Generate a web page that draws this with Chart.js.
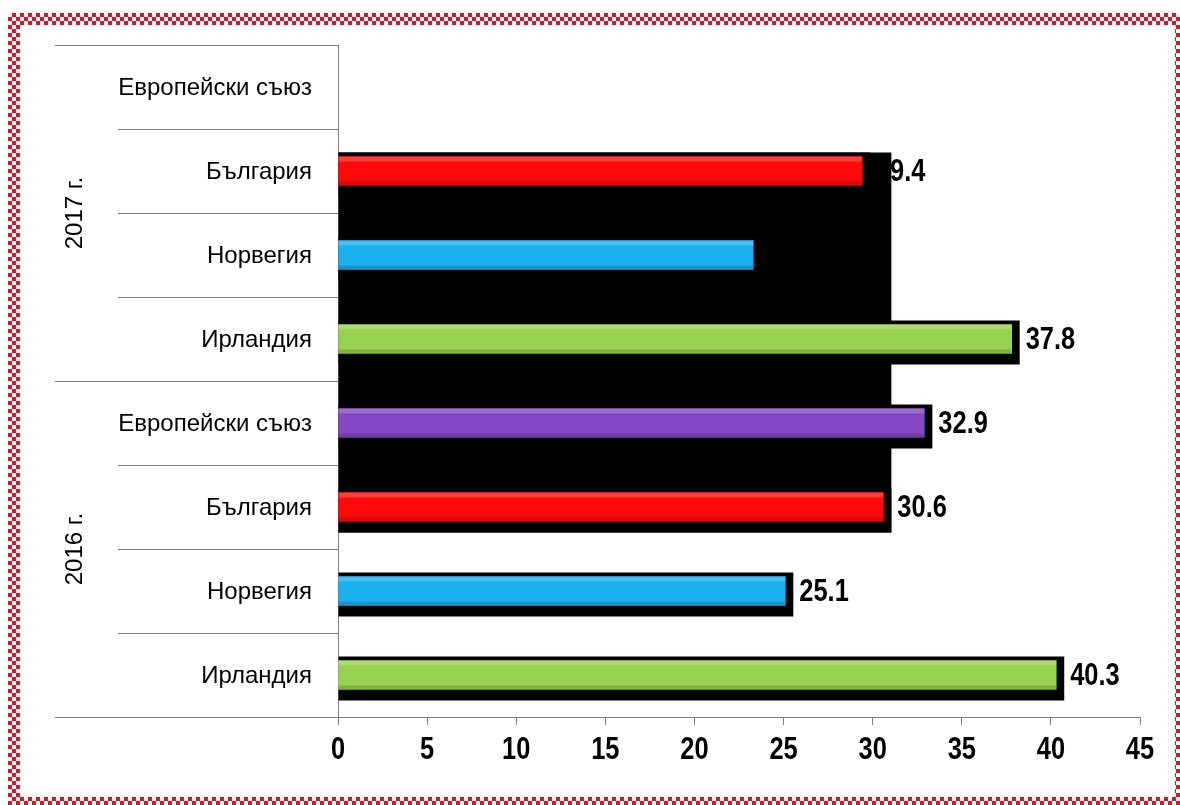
<!DOCTYPE html>
<html>
<head>
<meta charset="utf-8">
<script src="https://cdn.jsdelivr.net/npm/chart.js@4.4.0/dist/chart.umd.min.js"></script>
<style>
  html, body { margin: 0; padding: 0; background: #fff; }
  body { width: 1180px; height: 805px; position: relative; overflow: hidden; }
  .frame {
    position: absolute; left: 8px; top: 13px; width: 1179px; height: 796px;
    background: repeating-conic-gradient(#e8101a 0 25%, #fff 0 50%) 0 0 / 8px 8px;
  }
  .frame-inner { position: absolute; left: 12px; top: 12px; right: 12px; bottom: 12px; background: #fff; }
  #chart { position: absolute; left: 0; top: 0; }
</style>
</head>
<body>
<div class="frame"><div class="frame-inner"></div></div>
<canvas id="chart" width="1180" height="805"></canvas>
<script>
  'use strict';
  // categories, top to bottom
  const categories = [
    'Европейски съюз', 'България', 'Норвегия', 'Ирландия',
    'Европейски съюз', 'България', 'Норвегия', 'Ирландия'
  ];
  const groupLabels = ['2017 г.', '2016 г.'];
  const groupSizes = [4, 4];
  const values = [null, 29.4, 23.3, 37.8, 32.9, 30.6, 25.1, 40.3];
  const barColors = [
    '#8448c4', '#ff0a0a', '#19b2ee', '#96d24e',
    '#8448c4', '#ff0a0a', '#19b2ee', '#96d24e'
  ];
  const xTicks = [0, 5, 10, 15, 20, 25, 30, 35, 40, 45];

  const FAMILY = '"Liberation Sans", Arial, sans-serif';
  const NARROW = 0.82; // bold numbers look like Arial Narrow

  function drawText(ctx, text, x, y, font, align, squeeze, angle) {
    ctx.save();
    ctx.translate(x, y);
    if (angle) ctx.rotate(angle);
    ctx.scale(squeeze, 1);
    ctx.font = font;
    ctx.fillStyle = '#000';
    ctx.textAlign = align;
    ctx.textBaseline = 'middle';
    ctx.fillText(text, 0, 0);
    ctx.restore();
  }

  // black frame that sits behind every bar
  function shadowBox(bar) {
    const p = bar.getProps(['x', 'y', 'base', 'height'], true);
    return { l: p.base, t: p.y - p.height / 2 - 4, r: p.x + 8, b: p.y + p.height / 2 + 11 };
  }

  const shadowPlugin = {
    id: 'shadows',
    beforeDatasetsDraw(chart) {
      const ctx = chart.ctx;
      const bars = chart.getDatasetMeta(0).data;
      ctx.save();
      ctx.fillStyle = '#000';
      // the big black block between the two "България" bars
      const idx = [];
      categories.forEach((c, i) => { if (c === 'България' && values[i] != null) idx.push(i); });
      if (idx.length === 2) {
        const a = shadowBox(bars[idx[0]]), b = shadowBox(bars[idx[1]]);
        ctx.fillRect(a.l, a.t, Math.max(a.r, b.r) - a.l, b.b - a.t);
      }
      bars.forEach((bar, i) => {
        if (values[i] == null) return;
        const s = shadowBox(bar);
        ctx.fillRect(s.l, s.t, s.r - s.l, s.b - s.t);
      });
      ctx.restore();
    },
    afterDatasetsDraw(chart) {
      const ctx = chart.ctx;
      const bars = chart.getDatasetMeta(0).data;
      ctx.save();
      bars.forEach((bar, i) => {
        if (values[i] == null) return;
        const p = bar.getProps(['x', 'y', 'base', 'height'], true);
        const top = p.y - p.height / 2;
        // glossy top / darker bottom
        ctx.fillStyle = 'rgba(255,255,255,0.2)';
        ctx.fillRect(p.base, top, p.x - p.base, 5);
        ctx.fillStyle = 'rgba(0,0,0,0.15)';
        ctx.fillRect(p.base, top + p.height - 4, p.x - p.base, 4);
      });
      ctx.restore();
      // value labels
      bars.forEach((bar, i) => {
        if (values[i] == null) return;
        const s = shadowBox(bar);
        const p = bar.getProps(['y'], true);
        drawText(ctx, values[i].toFixed(1), s.r + 6, p.y + 1, 'bold 31px ' + FAMILY, 'left', NARROW);
      });
    }
  };

  const axisTextPlugin = {
    id: 'axisText',
    afterDraw(chart) {
      const ctx = chart.ctx;
      const x = chart.scales.x;
      const y = chart.scales.y;
      const area = chart.chartArea;
      const step = y.getPixelForValue(1) - y.getPixelForValue(0);
      const outer = 55, inner = 118;

      // x tick labels
      xTicks.forEach(v => {
        drawText(ctx, String(v), x.getPixelForValue(v), area.bottom + 33, 'bold 31px ' + FAMILY, 'center', NARROW);
      });
      // category labels
      categories.forEach((c, i) => {
        drawText(ctx, c, area.left - 26, y.getPixelForValue(i) + 1, '24px ' + FAMILY, 'right', 1);
      });

      ctx.save();
      ctx.strokeStyle = '#808080';
      ctx.lineWidth = 1;
      function hline(x0, x1, yy) {
        ctx.beginPath();
        ctx.moveTo(x0, Math.round(yy) + 0.5);
        ctx.lineTo(x1, Math.round(yy) + 0.5);
        ctx.stroke();
      }
      hline(outer, area.left, y.getPixelForValue(0) - step / 2);
      hline(outer, area.left, area.bottom);
      let start = 0;
      groupSizes.forEach((n, g) => {
        for (let k = 1; k < n; k++) {
          hline(inner, area.left, y.getPixelForValue(start + k - 1) + step / 2);
        }
        if (start + n < categories.length) {
          hline(outer, area.left, y.getPixelForValue(start + n - 1) + step / 2);
        }
        const mid = (y.getPixelForValue(start) + y.getPixelForValue(start + n - 1)) / 2;
        drawText(ctx, groupLabels[g], 75, mid, '24px ' + FAMILY, 'center', 1, -Math.PI / 2);
        start += n;
      });
      ctx.restore();
    }
  };

  new Chart(document.getElementById('chart').getContext('2d'), {
    type: 'bar',
    data: {
      labels: categories,
      datasets: [{
        data: values,
        backgroundColor: barColors,
        borderWidth: 0,
        barThickness: 29
      }]
    },
    options: {
      indexAxis: 'y',
      responsive: false,
      animation: false,
      layout: { padding: { top: 45, right: 40, bottom: 0, left: 0 } },
      plugins: { legend: { display: false }, tooltip: { enabled: false } },
      scales: {
        x: {
          min: xTicks[0],
          max: xTicks[xTicks.length - 1],
          afterBuildTicks(scale) { scale.ticks = xTicks.map(v => ({ value: v })); },
          afterFit(scale) { scale.height = 88; },
          grid: { drawOnChartArea: false, drawTicks: true, tickLength: 8, color: '#808080' },
          border: { display: true, color: '#808080' },
          ticks: { display: false }
        },
        y: {
          afterFit(scale) { scale.width = 338; },
          grid: { display: false },
          border: { display: true, color: '#808080' },
          ticks: { display: false }
        }
      }
    },
    plugins: [shadowPlugin, axisTextPlugin]
  });
</script>
</body>
</html>
